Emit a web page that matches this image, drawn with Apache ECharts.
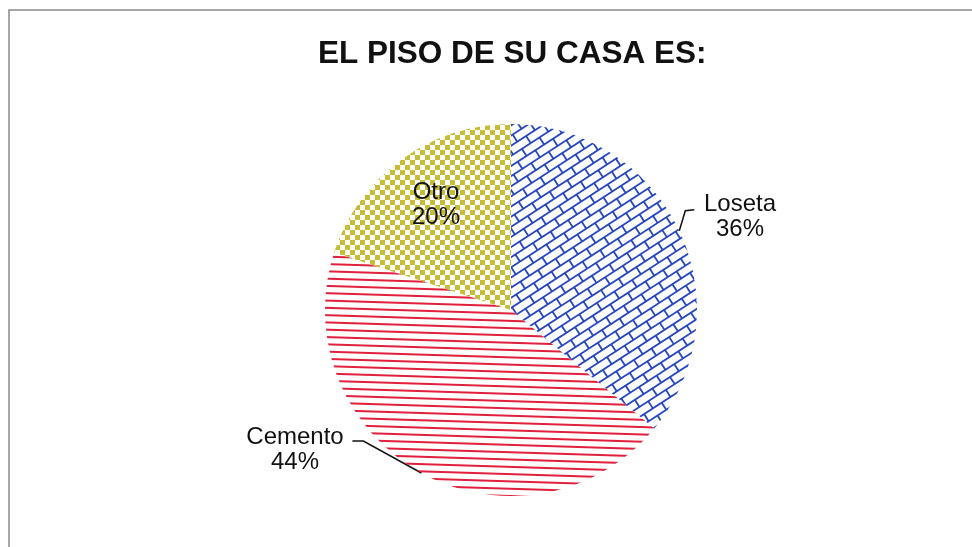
<!DOCTYPE html>
<html>
<head>
<meta charset="utf-8">
<script src="https://cdn.jsdelivr.net/npm/echarts@6/dist/echarts.min.js"></script>
<style>
html,body{margin:0;padding:0;background:#fff;}
#chart{width:972px;height:547px;}
</style>
</head>
<body>
<div id="chart"></div>
<script>
// ---- data ----
var titleText = 'EL PISO DE SU CASA ES:';
var categories = ['Loseta', 'Cemento', 'Otro'];
var values = [36, 44, 20];

// ---- patterns (full-canvas textures) ----
var CW = 972, CH = 547;
function brickPattern() {
  var c = document.createElement('canvas');
  c.width = CW; c.height = CH;
  var g = c.getContext('2d');
  g.strokeStyle = '#2646bd';
  g.lineWidth = 1.8;
  g.translate(CW / 2, CH / 2);
  g.rotate(-33 * Math.PI / 180);
  var B = 8.5, L = 21, R = 700;
  for (var k = -Math.ceil(R / B); k <= Math.ceil(R / B); k++) {
    var v = k * B;
    g.beginPath();
    g.moveTo(-R, v);
    g.lineTo(R, v);
    g.stroke();
    var off = (((k % 2) + 2) % 2) * L / 2;
    for (var u = -R + off; u <= R; u += L) {
      g.beginPath();
      g.moveTo(u, v);
      g.lineTo(u, v + B);
      g.stroke();
    }
  }
  return c;
}
function linePattern() {
  var c = document.createElement('canvas');
  c.width = CW; c.height = CH;
  var g = c.getContext('2d');
  g.strokeStyle = '#e0203c';
  g.lineWidth = 2;
  var slope = 0.031, sp = 7.3;
  for (var y = -60; y < CH + 10; y += sp) {
    g.beginPath();
    g.moveTo(0, y);
    g.lineTo(CW, y + CW * slope);
    g.stroke();
  }
  return c;
}
function checkerPattern() {
  var S = 5;
  var c = document.createElement('canvas');
  c.width = 2 * S; c.height = 2 * S;
  var g = c.getContext('2d');
  g.fillStyle = '#c6bd34';
  g.fillRect(0, 0, S, S);
  g.fillRect(S, S, S, S);
  return c;
}
var patterns = [brickPattern(), linePattern(), checkerPattern()];
var repeats = ['no-repeat', 'no-repeat', 'repeat'];

var chart = echarts.init(document.getElementById('chart'), null, {renderer: 'canvas'});
var labelFont = {fontFamily: 'Liberation Sans, Arial, sans-serif', fontSize: 24, color: '#111', lineHeight: 25};

var option = {
  backgroundColor: '#fff',
  animation: false,
  title: {
    text: titleText,
    left: 313,
    top: 33,
    textStyle: {fontFamily: 'Liberation Sans, Arial, sans-serif', fontWeight: 'bold', fontSize: 31.5, color: '#111'}
  },
  graphic: [{
    type: 'polyline',
    shape: {points: [[9, 547], [9, 10], [972, 10]]},
    style: {stroke: '#888', lineWidth: 1.5, fill: null}
  }],
  series: [{
    type: 'pie',
    center: [511, 310],
    radius: 186,
    startAngle: 90,
    clockwise: true,
    label: Object.assign({show: true, formatter: '{b}\n{d}%', align: 'center'}, labelFont),
    labelLine: {show: true, length: 20, length2: 10, lineStyle: {color: '#111', width: 1.5}},
    itemStyle: {borderWidth: 0},
    emphasis: {disabled: true},
    labelLayout: function (params) {
      var p0 = params.labelLinePoints ? params.labelLinePoints[0] : null;
      if (params.dataIndex === 0) {
        return {x: 740, y: 217, align: 'center', verticalAlign: 'middle',
          labelLinePoints: [p0, [p0[0] + 6, p0[1] - 20], [p0[0] + 15, p0[1] - 21]]};
      }
      if (params.dataIndex === 1) {
        return {x: 295, y: 450, align: 'center', verticalAlign: 'middle',
          labelLinePoints: [p0, [p0[0] - 58, p0[1] - 32], [p0[0] - 69, p0[1] - 32]]};
      }
      return {x: 436, y: 205, align: 'center', verticalAlign: 'middle'};
    },
    data: categories.map(function (name, i) {
      var d = {name: name, value: values[i], itemStyle: {color: {image: patterns[i], repeat: repeats[i]}}};
      if (i === 2) {
        d.label = {position: 'inside'};
        d.labelLine = {show: false};
      }
      return d;
    })
  }]
};
chart.setOption(option);
</script>
</body>
</html>
